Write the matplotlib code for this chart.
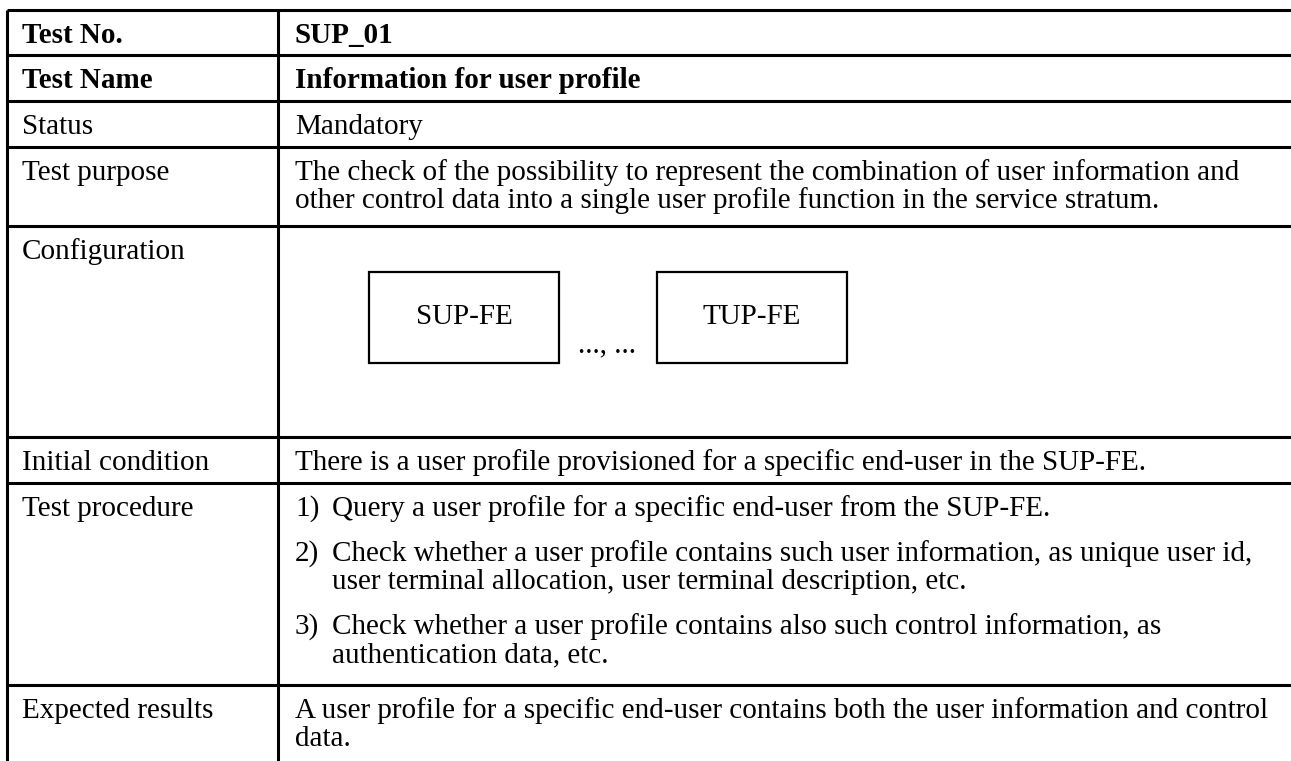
import matplotlib.pyplot as plt
from matplotlib.patches import Rectangle

# DATA
#------------------------
labels = ['Test No.', 'Test Name', 'Status', 'Test purpose', 'Configuration',
          'Initial condition', 'Test procedure', 'Expected results']
bold_rows = [0, 1]
test_no = ['SUP_01']
test_name = ['Information for user profile']
status = ['Mandatory']
purpose = ['The check of the possibility to represent the combination of user information and',
           'other control data into a single user profile function in the service stratum.']
config_boxes = ['SUP-FE', 'TUP-FE']
config_gap = '..., ...'
initial = ['There is a user profile provisioned for a specific end-user in the SUP-FE.']
steps = [['Query a user profile for a specific end-user from the SUP-FE.'],
         ['Check whether a user profile contains such user information, as unique user id,',
          'user terminal allocation, user terminal description, etc.'],
         ['Check whether a user profile contains also such control information, as',
          'authentication data, etc.']]
expected = ['A user profile for a specific end-user contains both the user information and control',
            'data.']
#------------------------

# layout (pixels)
W, H = 1291, 761
row_tops = [10, 55, 101, 147, 226, 437, 483, 685]
x_left, x_div = 7, 278
x_lab, x_val, x_step = 22, 295, 332
base_off = 33
line_step = 28
para_gap = 17
fs = 21
font = 'Liberation Serif'

fig = plt.figure(figsize=(W / 100, H / 100), dpi=100)
ax = fig.add_axes([0, 0, 1, 1])
ax.set_xlim(0, W)
ax.set_ylim(H, 0)
ax.axis('off')

# grid lines
lw = 2.2
ax.hlines(row_tops, x_left, W, color='black', lw=lw)
ax.vlines([x_left, x_div], row_tops[0], H, color='black', lw=lw)

def put(x, y, s, bold=False, **kw):
    ax.text(x, y, s, fontsize=fs, family=font, va='baseline',
            fontweight='bold' if bold else 'normal', **kw)

# left column
for i, lab in enumerate(labels):
    put(x_lab, row_tops[i] + base_off, lab, bold=i in bold_rows)

# right column: simple rows
simple = {0: test_no, 1: test_name, 2: status, 3: purpose, 5: initial, 7: expected}
for i, lines in simple.items():
    for j, s in enumerate(lines):
        put(x_val, row_tops[i] + base_off + j * line_step, s, bold=i in bold_rows)

# test procedure
y = row_tops[6] + base_off
for k, para in enumerate(steps):
    put(x_val, y, '{0})'.format(k + 1))
    for s in para:
        put(x_step, y, s)
        y += line_step
    y += para_gap

# configuration diagram
box_x = [369, 657]
box_w, box_top, box_h = 190, 272, 91
for bx, name in zip(box_x, config_boxes):
    ax.add_patch(Rectangle((bx, box_top), box_w, box_h, fill=False, ec='black', lw=1.6))
    ax.text(bx + box_w / 2, box_top + box_h / 2, name, fontsize=fs, family=font,
            ha='center', va='center')
put(607, 352, config_gap, ha='center')

fig.savefig('out.png', dpi=100)
